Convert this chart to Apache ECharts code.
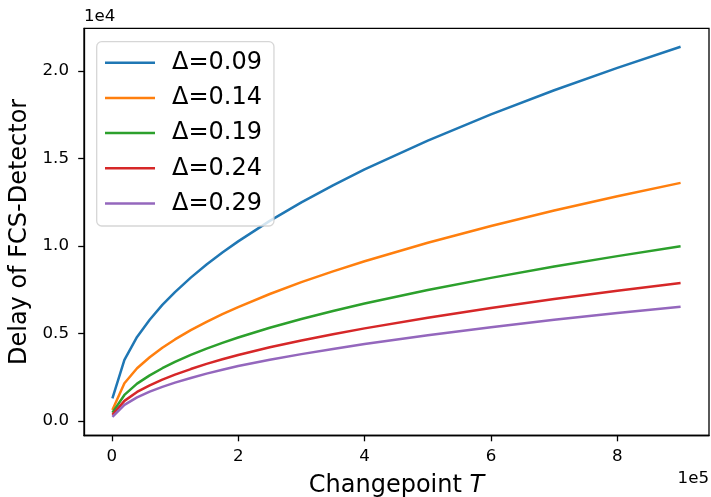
<!DOCTYPE html>
<html>
<head>
<meta charset="utf-8">
<script src="https://cdn.jsdelivr.net/npm/echarts@6/dist/echarts.min.js"></script>
<style>
  html, body { margin: 0; padding: 0; background: #ffffff; }
  #chart { width: 711px; height: 497px; }
</style>
</head>
<body>
<div id="chart"></div>
<script>
// Changepoint positions T
const changepoints = [1000, 20000, 40000, 60000, 80000, 100000, 125000, 150000, 175000,
  200000, 250000, 300000, 350000, 400000, 500000, 600000, 700000, 800000, 900000];

// Detection delay of the FCS-Detector for each shift size
const delta009 = [1300, 3490, 4800, 5785, 6630, 7360, 8190, 8935, 9620,
  10260, 11430, 12490, 13460, 14365, 16015, 17510, 18890, 20170, 21370];
const delta014 = [630, 2160, 3010, 3638, 4183, 4658, 5187, 5662, 6100,
  6506, 7253, 7930, 8546, 9126, 10181, 11139, 12017, 12839, 13600];
const delta019 = [480, 1490, 2133, 2606, 3014, 3376, 3774, 4137, 4464,
  4772, 5329, 5828, 6284, 6706, 7477, 8175, 8819, 9416, 9977];
const delta024 = [350, 1150, 1661, 2037, 2368, 2647, 2967, 3261, 3524,
  3772, 4210, 4600, 4958, 5291, 5899, 6450, 6966, 7437, 7880];
const delta029 = [230, 920, 1352, 1677, 1950, 2190, 2459, 2708, 2928,
  3138, 3495, 3820, 4116, 4393, 4898, 5355, 5777, 6168, 6530];

const seriesNames = ['Δ=0.09', 'Δ=0.14', 'Δ=0.19', 'Δ=0.24', 'Δ=0.29'];
const seriesValues = [delta009, delta014, delta019, delta024, delta029];
const seriesColors = ['#1f77b4', '#ff7f0e', '#2ca02c', '#d62728', '#9467bd'];

// Tick positions on both axes
const xTicks = [0, 200000, 400000, 600000, 800000];
const yTicks = [0, 5000, 10000, 15000, 20000];

const FONT = 'DejaVu Sans';

const chart = echarts.init(document.getElementById('chart'), null, { renderer: 'canvas' });

const series = seriesNames.map((name, k) => ({
  name: name,
  type: 'line',
  data: changepoints.map((t, i) => [t, seriesValues[k][i]]),
  showSymbol: false,
  symbol: 'none',
  clip: true,
  z: 2,
  lineStyle: { color: seriesColors[k], width: 2.5, cap: 'butt', join: 'round' },
  itemStyle: { color: seriesColors[k] }
}));

chart.setOption({
  animation: false,
  backgroundColor: '#ffffff',
  grid: {
    left: 84, right: 2, top: 28.3, bottom: 61.5,
    containLabel: false,
    outerBoundsMode: 'none',
    show: true, borderColor: '#000000', borderWidth: 1.3,
    backgroundColor: 'transparent'
  },
  legend: {
    orient: 'vertical',
    left: 96.7, top: 41.7,
    padding: [7, 12, 8.5, 8.3],
    itemWidth: 50, itemHeight: 2.5, itemGap: 7.2,
    icon: 'rect',
    backgroundColor: 'rgba(255,255,255,0.8)',
    borderColor: 'rgba(204,204,204,0.8)',
    borderWidth: 1.3,
    borderRadius: 5,
    z: 10,
    textStyle: {
      fontFamily: FONT, fontSize: 24, color: '#000000',
      lineHeight: 28, padding: [0, 0, 0, 12]
    },
    data: seriesNames
  },
  xAxis: {
    type: 'value',
    min: -43950, max: 944950,
    name: '{a|Changepoint }{b|T}',
    nameLocation: 'middle',
    nameGap: 38.5,
    nameTextStyle: {
      rich: {
        a: { fontFamily: FONT, fontSize: 24, color: '#000000' },
        b: { fontFamily: FONT, fontSize: 24, fontStyle: 'italic', color: '#000000' }
      }
    },
    axisLine: { show: true, onZero: false, lineStyle: { color: '#000000', width: 1.3 } },
    axisTick: {
      show: true, inside: false, length: 5.8,
      lineStyle: { color: '#000000', width: 1.3 },
      customValues: xTicks
    },
    axisLabel: {
      show: true, margin: 13,
      fontFamily: FONT, fontSize: 16.67, color: '#000000',
      customValues: xTicks,
      formatter: v => String(Math.round(v / 1e5))
    },
    splitLine: { show: false }
  },
  yAxis: {
    type: 'value',
    min: -827, max: 22427,
    name: 'Delay of FCS-Detector',
    nameLocation: 'middle',
    nameGap: 47,
    nameTextStyle: { fontFamily: FONT, fontSize: 24, color: '#000000' },
    axisLine: { show: true, onZero: false, lineStyle: { color: '#000000', width: 1.3 } },
    axisTick: {
      show: true, inside: false, length: 5.8,
      lineStyle: { color: '#000000', width: 1.3 },
      customValues: yTicks
    },
    axisLabel: {
      show: true, margin: 15,
      fontFamily: FONT, fontSize: 16.67, color: '#000000',
      customValues: yTicks,
      formatter: v => (v / 1e4).toFixed(1)
    },
    splitLine: { show: false }
  },
  graphic: [
    {
      type: 'text', left: 84, top: 8.5,
      style: { text: '1e4', font: '16.67px "DejaVu Sans"', fill: '#000000' }
    },
    {
      type: 'text', right: 2, top: 470,
      style: { text: '1e5', font: '16.67px "DejaVu Sans"', fill: '#000000' }
    }
  ],
  series: series
});
</script>
</body>
</html>
